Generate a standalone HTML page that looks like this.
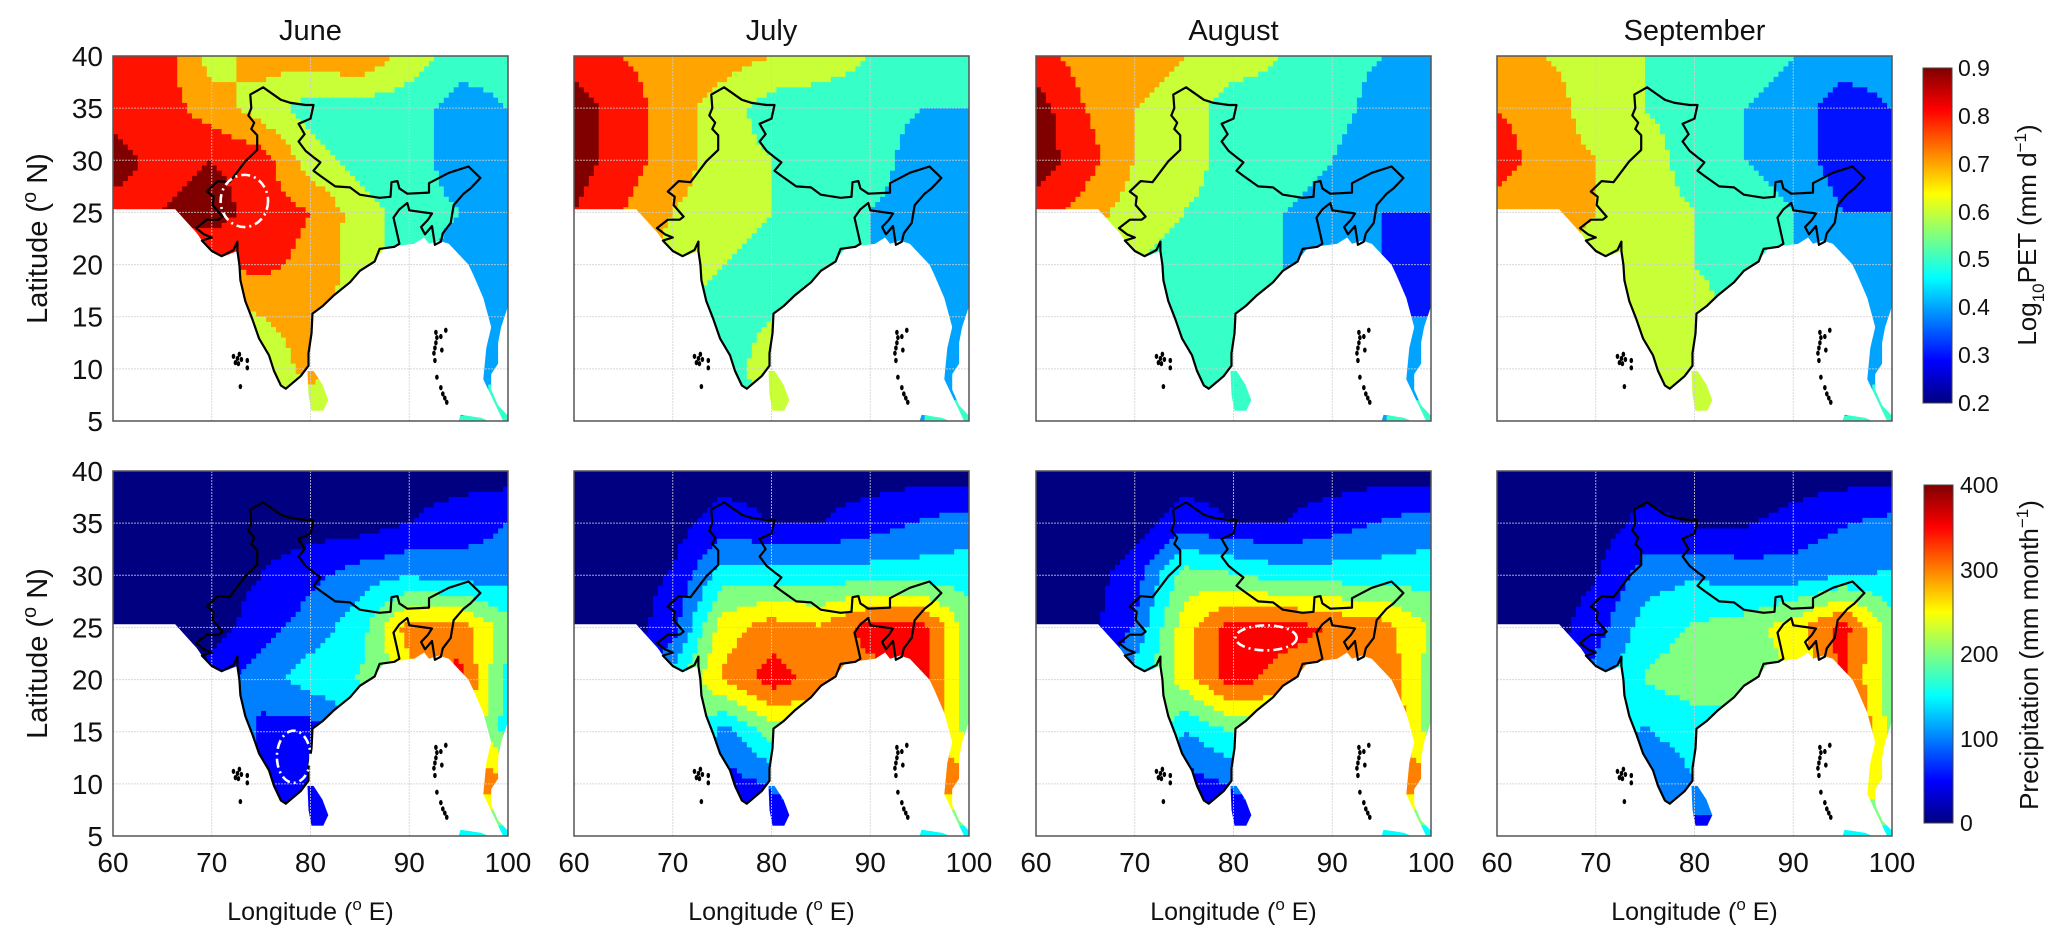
<!DOCTYPE html>
<html><head><meta charset="utf-8"><style>
html,body{margin:0;padding:0;background:#fff}
body{width:2067px;height:942px;position:relative;overflow:hidden;font-family:"Liberation Sans",Arial,sans-serif}
svg{position:absolute;left:0;top:0}
</style></head><body>
<svg id="fig" width="2067" height="942" viewBox="0 0 2067 942" xmlns="http://www.w3.org/2000/svg">
<defs>
<linearGradient id="jetV" x1="0" y1="1" x2="0" y2="0">
<stop offset="0" stop-color="#000080"/><stop offset="0.125" stop-color="#0000ff"/><stop offset="0.375" stop-color="#00ffff"/><stop offset="0.625" stop-color="#ffff00"/><stop offset="0.875" stop-color="#ff0000"/><stop offset="1" stop-color="#800000"/>
</linearGradient>
</defs>
<g id="panels"></g>
<g>
<rect x="1923" y="68" width="29" height="335" fill="url(#jetV)" stroke="#444" stroke-width="1"/>
<g font-size="23" fill="#111">
<text x="1958" y="76">0.9</text><text x="1958" y="124">0.8</text><text x="1958" y="172">0.7</text><text x="1958" y="220">0.6</text><text x="1958" y="267">0.5</text><text x="1958" y="315">0.4</text><text x="1958" y="363">0.3</text><text x="1958" y="411">0.2</text>
</g>
<text transform="translate(2036,235) rotate(-90)" text-anchor="middle" font-size="26" fill="#111">Log<tspan font-size="17" dy="8">10</tspan><tspan dy="-8">PET (mm d</tspan><tspan font-size="17" dy="-10">−1</tspan><tspan dy="10">)</tspan></text>
</g>
<g>
<rect x="1924" y="485" width="29" height="338" fill="url(#jetV)" stroke="#444" stroke-width="1"/>
<g font-size="23" fill="#111">
<text x="1960" y="493">400</text><text x="1960" y="578">300</text><text x="1960" y="662">200</text><text x="1960" y="747">100</text><text x="1960" y="831">0</text>
</g>
<text transform="translate(2038,655) rotate(-90)" text-anchor="middle" font-size="26" fill="#111">Precipitation (mm month<tspan font-size="17" dy="-10">−1</tspan><tspan dy="10">)</tspan></text>
</g>
</svg>
<script>
// ---- data: 5-degree grid nodes, rows lat 40..5, cols lon 60..100 ----
const lonNodes = [60,65,70,75,80,85,90,95,100];
const latNodes = [40,35,30,25,20,15,10,5];
const months = ["June","July","August","September"];
const petJune = [
0.8,0.8,0.6,0.7,0.7,0.75,0.6,0.5,0.5,
0.8,0.8,0.7,0.6,0.5,0.5,0.5,0.4,0.45,
0.9,0.8,0.85,0.8,0.6,0.5,0.5,0.4,0.4,
0.8,0.85,0.9,0.8,0.75,0.6,0.5,0.45,0.4,
0.8,0.8,0.75,0.78,0.72,0.6,0.5,0.4,0.4,
0.7,0.7,0.6,0.65,0.7,0.6,0.5,0.4,0.4,
0.6,0.6,0.5,0.55,0.7,0.6,0.5,0.4,0.45,
0.55,0.55,0.5,0.5,0.55,0.5,0.5,0.45,0.5];
const petJuly = [
0.8,0.75,0.7,0.7,0.65,0.6,0.55,0.5,0.5,
0.9,0.8,0.7,0.6,0.5,0.5,0.5,0.45,0.45,
0.9,0.8,0.7,0.6,0.55,0.5,0.5,0.4,0.4,
0.85,0.75,0.65,0.6,0.55,0.5,0.45,0.4,0.4,
0.7,0.7,0.6,0.55,0.5,0.5,0.45,0.4,0.4,
0.6,0.6,0.55,0.5,0.55,0.5,0.45,0.4,0.4,
0.55,0.55,0.5,0.5,0.6,0.55,0.45,0.4,0.4,
0.5,0.5,0.5,0.5,0.55,0.5,0.45,0.45,0.5];
const petAugust = [
0.8,0.7,0.7,0.65,0.6,0.55,0.5,0.45,0.45,
0.9,0.75,0.65,0.6,0.5,0.5,0.5,0.4,0.35,
0.9,0.8,0.65,0.6,0.5,0.5,0.45,0.35,0.35,
0.8,0.7,0.6,0.55,0.5,0.45,0.4,0.35,0.35,
0.7,0.65,0.55,0.5,0.5,0.45,0.4,0.35,0.3,
0.6,0.6,0.5,0.5,0.5,0.45,0.4,0.35,0.35,
0.55,0.55,0.5,0.5,0.55,0.5,0.4,0.4,0.4,
0.5,0.5,0.5,0.5,0.5,0.5,0.45,0.45,0.5];
const petSeptember = [
0.7,0.65,0.6,0.55,0.5,0.5,0.45,0.4,0.4,
0.75,0.7,0.6,0.55,0.5,0.45,0.4,0.3,0.35,
0.8,0.7,0.65,0.6,0.5,0.45,0.4,0.3,0.3,
0.7,0.7,0.65,0.6,0.55,0.5,0.45,0.35,0.35,
0.7,0.65,0.6,0.55,0.55,0.5,0.45,0.4,0.4,
0.65,0.6,0.6,0.6,0.6,0.5,0.45,0.4,0.4,
0.6,0.6,0.55,0.55,0.6,0.55,0.45,0.4,0.45,
0.55,0.55,0.55,0.5,0.55,0.5,0.45,0.45,0.5];
const preJune = [
0,0,0,0,0,0,0,0,0,
0,0,0,0,0,0,25,50,75,
0,0,0,25,60,100,120,100,100,
0,0,0,50,100,150,300,300,200,
0,0,50,100,150,180,250,350,150,
0,0,200,60,50,100,200,300,150,
0,0,100,50,30,100,150,300,300,
0,0,50,50,50,50,100,150,150];
const preJuly = [
0,0,0,0,0,0,0,0,0,
0,0,0,50,25,25,50,80,100,
0,0,30,150,150,150,150,150,150,
0,0,50,250,300,280,350,350,200,
0,0,150,280,350,300,300,350,200,
0,0,300,100,200,220,220,350,200,
0,0,150,50,80,100,150,300,300,
0,0,50,50,50,50,100,150,150];
const preAugust = [
0,0,0,0,0,0,0,0,0,
0,0,0,50,25,25,50,80,100,
0,0,50,200,180,150,150,150,150,
0,0,80,250,350,350,320,300,220,
0,0,150,250,350,300,280,320,200,
0,0,300,120,180,200,220,350,200,
0,0,150,50,80,100,150,300,300,
0,0,50,50,50,50,100,150,150];
const preSeptember = [
0,0,0,0,0,0,0,0,0,
0,0,0,40,20,20,40,70,90,
0,0,20,100,120,100,100,120,130,
0,0,50,150,180,200,250,350,200,
0,0,100,180,200,200,220,330,200,
0,0,150,120,150,150,200,380,200,
0,0,120,80,120,120,150,250,250,
0,0,50,50,50,50,100,150,150];
const latTicks = [40,35,30,25,20,15,10,5];
const lonTicks = [60,70,80,90,100];

// ---- geometry ----
const PW=395, PH=365, lefts=[113,574,1036,1497], tops=[56,471];
const xS = lon => (lon-60)*PW/40;
const yS = lat => (40-lat)*PH/35;
const land = [[60,40],[100,40],[100,16],[99.3,14],[99,12.5],[99,10.5],[98.3,9.5],[98.3,8],[99,6.5],[100,5.5],[100,5],[99.5,5],[98.5,7],[97.5,9],[97.8,12],[98.3,14],[97.5,16.8],[96.5,19],[96,20],[95,21],[94,22],[93,22.3],[92,22],[91.5,22.6],[90.5,22],[89,21.8],[87.5,21.6],[86.5,20.4],[85,19.4],[84,18.3],[82.3,17],[81.2,16],[80.2,15.3],[80.1,13.4],[79.8,11.5],[79.8,10.3],[79,9.3],[77.5,8.0],[77,8.4],[76.3,9.8],[75.8,11.3],[74.8,12.9],[74.1,14.8],[73.4,16.5],[72.9,18.5],[72.7,20],[72.6,21.3],[71,20.7],[70,21.2],[69,22.3],[68.5,23],[66.3,25.3],[60,25.3]];
const lanka = [[79.7,9.8],[80.3,9.8],[81.2,8.5],[81.8,7],[81.3,6],[80.1,6],[79.8,7.5]];
const sumatra = [[95.2,5.6],[97.3,5.3],[98,5],[95,5]];
const india = [[73.9,36.3],[75.2,37],[77,35.8],[78,35.5],[79.5,35.3],[80.3,35.3],[80,34],[78.8,33.5],[79.4,32.5],[78.8,31.8],[79.5,30.9],[80.3,30.3],[81,29.8],[80.3,29],[81,28.5],[82.5,27.5],[84,27.4],[85,26.7],[87,26.4],[88.1,26.5],[88.2,27.9],[88.8,28],[89,27.3],[89.8,26.8],[92,26.9],[92,27.8],[94,28.8],[96,29.4],[97.2,28.3],[96.2,27.3],[95.5,26.8],[94.5,25.7],[94.2,24],[93.4,23],[93.2,22.2],[92.6,21.9],[92.3,23.7],[91.6,22.9],[91.2,23.6],[91.9,24.3],[92.3,24.9],[90,25.2],[89.8,25.9],[89,25.3],[88.4,24.5],[88.7,23.3],[89,22],[88.5,21.7],[87,21.5],[86.5,20.3],[85,19.4],[84,18.3],[82.3,17],[81.2,16],[80.2,15.3],[80.1,13.4],[79.8,11.5],[79.8,10.3],[79,9.3],[77.5,8.1],[77,8.4],[76.3,9.8],[75.8,11.3],[74.8,12.9],[74.1,14.8],[73.4,16.5],[72.9,18.5],[72.8,20],[72.6,21.3],[72.6,22.2],[72.2,21.4],[71,20.8],[70,21.3],[69,22.3],[70,22.6],[69.2,22.9],[68.4,23.5],[69.5,24.3],[70.7,24.3],[71.1,24.6],[70.1,25.7],[70.2,26.5],[69.5,27],[70.6,28],[71.8,27.9],[73.4,29.9],[74.6,31],[74.6,32.4],[74,33],[74.3,33.6],[73.7,34.3],[74,35]];
const islands = [[72.2,11.2],[72.6,11.0],[72.8,11.4],[73.0,10.9],[72.4,10.6],[72.7,10.5],[73.6,10.8],[73.6,10.1],[72.9,8.3],[92.7,13.5],[92.8,13],[92.7,12.5],[92.6,12],[92.5,11.5],[92.6,10.8],[93.2,13.1],[93.7,13.7],[93.3,11.8],[92.8,9.2],[93.2,8.2],[93.4,7.6],[93.6,7.2],[93.8,6.8]];
const ellipses = {0:[73.3,26.1,2.4,2.5], 4:[78.3,12.6,1.7,2.5], 6:[83.3,24.0,3.1,1.2]};

const NS="http://www.w3.org/2000/svg";
function el(tag, attrs, parent){const e=document.createElementNS(NS,tag);for(const k in attrs)e.setAttribute(k,attrs[k]);if(parent)parent.appendChild(e);return e;}
const clamp=v=>Math.max(0,Math.min(1,v));
function jet(t){const r=clamp(1.5-Math.abs(4*t-3)),g=clamp(1.5-Math.abs(4*t-2)),b=clamp(1.5-Math.abs(4*t-1));return `rgb(${Math.round(r*255)},${Math.round(g*255)},${Math.round(b*255)})`;}
function sample(arr, lon, lat){
  let fi=(lon-60)/5, fj=(40-lat)/5;
  let i=Math.min(7,Math.max(0,Math.floor(fi))), j=Math.min(6,Math.max(0,Math.floor(fj)));
  const u=fi-i, v=fj-j, n=lonNodes.length;
  const a=arr[j*n+i], b=arr[j*n+i+1], c=arr[(j+1)*n+i], d=arr[(j+1)*n+i+1];
  return a*(1-u)*(1-v)+b*u*(1-v)+c*(1-u)*v+d*u*v;
}
const ptsStr = p => p.map(q=>xS(q[0]).toFixed(1)+","+yS(q[1]).toFixed(1)).join(" ");
const fields = [petJune,petJuly,petAugust,petSeptember,preJune,preJuly,preAugust,preSeptember];
const root=document.getElementById('panels');
const defs=document.querySelector('defs');
const STEP=0.5;
for(let k=0;k<8;k++){
  const row=Math.floor(k/4), col=k%4, isPet=row===0, data=fields[k];
  const cp=el('clipPath',{id:'clip'+k},defs);
  el('polygon',{points:ptsStr(land)},cp);
  el('polygon',{points:ptsStr(lanka)},cp);
  el('polygon',{points:ptsStr(sumatra)},cp);
  const g=el('g',{transform:`translate(${lefts[col]},${tops[row]})`},root);
  
  
  const fg=el('g',{'clip-path':`url(#clip${k})`},g);
  
  
  for(let lat=40;lat>5;lat-=STEP){
    let runStart=60, runColor=null;
    for(let lon=60;lon<=100;lon+=STEP){
      let color=null;
      if(lon<100){
        const v=sample(data,lon+STEP/2,lat-STEP/2);
        if(isPet){const lv=Math.min(0.9,Math.max(0.2,Math.round(v*10+1e-6)/10));color=jet((lv-0.2)/0.7);}
        else{const lv=Math.min(400,Math.max(0,Math.round(v/50+1e-6)*50));color=jet(lv/400);}
      }
      if(color!==runColor){
        if(runColor!==null){
          const r=el('rect',{x:xS(runStart).toFixed(1),y:yS(lat).toFixed(1),width:(xS(lon)-xS(runStart)+0.6).toFixed(1),height:(PH*STEP/35+0.6).toFixed(1),fill:runColor},fg);
          
          
        }
        runStart=lon; runColor=color;
      }
    }
  }
  const gg=el('g',{stroke:'#cfcfcf','stroke-width':1,'stroke-dasharray':'2,1',opacity:0.8},g);
  
  
  [70,80,90].forEach(l=>el('line',{x1:xS(l),x2:xS(l),y1:0,y2:PH},gg));
  [35,30,25,20,15,10].forEach(l=>el('line',{x1:0,x2:PW,y1:yS(l),y2:yS(l)},gg));
  const b=el('polygon',{points:ptsStr(india),fill:'none',stroke:'#000','stroke-width':2.2,'stroke-linejoin':'round'},g);
  
  
  islands.forEach(p=>{const c=el('ellipse',{cx:xS(p[0]),cy:yS(p[1]),rx:1.8,ry:2.6,fill:'#000'},g);
    
    });
  if(ellipses[k]){const e=ellipses[k];
    const eo=el('ellipse',{cx:xS(e[0]),cy:yS(e[1]),rx:e[2]*PW/40,ry:e[3]*PH/35,fill:'none',stroke:'#fff','stroke-width':2.6,'stroke-dasharray':'9,4,2,4'},g);
    
    }
  const fr=el('rect',{x:0,y:0,width:PW,height:PH,fill:'none',stroke:'#555','stroke-width':1.5},g);
  
  
  if(row===0){
    const t=el('text',{x:PW/2,y:-16,'text-anchor':'middle','font-size':29,fill:'#111'},g);
    t.textContent=months[col];
    
    
  }
  if(col===0){
    latTicks.forEach(l=>{const t=el('text',{x:-10,y:yS(l)+10,'text-anchor':'end','font-size':28,fill:'#111'},g);
      t.textContent=l;
      
      });
    const yl=el('text',{transform:`translate(-66,${PH/2}) rotate(-90)`,'text-anchor':'middle','font-size':29,fill:'#111'},g);
    yl.innerHTML='Latitude (<tspan font-size="20" dy="-11">o</tspan><tspan dy="11"> N)</tspan>';
    
    
  }
  if(row===1){
    lonTicks.forEach(l=>{const t=el('text',{x:xS(l),y:PH+36,'text-anchor':'middle','font-size':28,fill:'#111'},g);
      t.textContent=l;
      
      });
    const xl=el('text',{x:PW/2,y:PH+84,'text-anchor':'middle','font-size':25,fill:'#111'},g);
    xl.innerHTML='Longitude (<tspan font-size="17" dy="-10">o</tspan><tspan dy="10"> E)</tspan>';
    
    
  }
}
</script>
</body></html>
